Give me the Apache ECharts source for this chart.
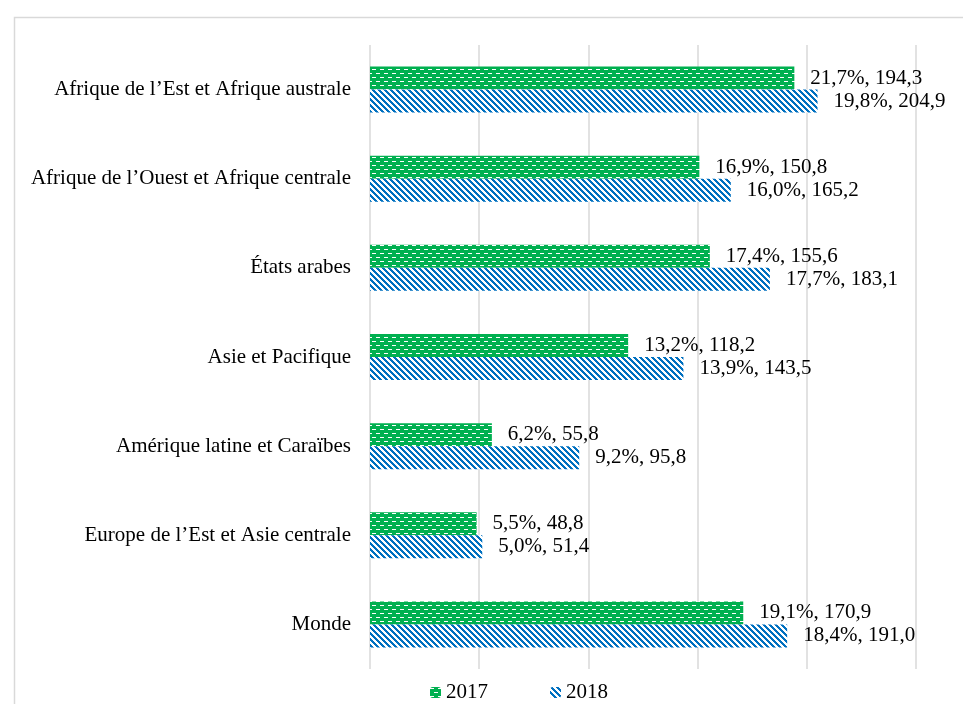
<!DOCTYPE html>
<html>
<head>
<meta charset="utf-8">
<script src="https://cdn.jsdelivr.net/npm/echarts@6/dist/echarts.min.js"></script>
<style>
  html, body { margin: 0; padding: 0; background: #fff; }
  #chart { width: 963px; height: 704px; }
</style>
</head>
<body>
<div id="chart"></div>
<script>
// données
var categories = [
    'Afrique de l\u2019Est et Afrique australe',
    'Afrique de l\u2019Ouest et Afrique centrale',
    'États arabes',
    'Asie et Pacifique',
    'Amérique latine et Caraïbes',
    'Europe de l\u2019Est et Asie centrale',
    'Monde'
];
var values2017 = [194.3, 150.8, 155.6, 118.2, 55.8, 48.8, 170.9];
var values2018 = [204.9, 165.2, 183.1, 143.5, 95.8, 51.4, 191.0];
var pct2017 = [21.7, 16.9, 17.4, 13.2, 6.2, 5.5, 19.1];
var pct2018 = [19.8, 16.0, 17.7, 13.9, 9.2, 5.0, 18.4];

function fr(n) {
    return n.toFixed(1).replace('.', ',');
}

// motif vert : fond vert, tirets blancs décalés
function greenPattern() {
    var c = document.createElement('canvas');
    c.width = 8; c.height = 8;
    var ctx = c.getContext('2d');
    ctx.fillStyle = '#00B050';
    ctx.fillRect(0, 0, 8, 8);
    ctx.fillStyle = '#ffffff';
    ctx.fillRect(0, 1, 4, 1);
    ctx.fillRect(4, 5, 4, 1);
    return c;
}

// motif bleu : hachures diagonales
function bluePattern() {
    var c = document.createElement('canvas');
    c.width = 6; c.height = 6;
    var ctx = c.getContext('2d');
    ctx.fillStyle = '#ffffff';
    ctx.fillRect(0, 0, 6, 6);
    ctx.fillStyle = '#0070C0';
    for (var y = 0; y < 6; y++) {
        for (var k = 0; k < 3; k++) {
            ctx.fillRect((y + k) % 6, y, 1, 1);
        }
    }
    return c;
}

var font = 'Liberation Serif';
var fsize = 21;

var myChart = echarts.init(document.getElementById('chart'));
var option = {
    animation: false,
    backgroundColor: '#fff',
    graphic: [{
        type: 'rect',
        left: 12,
        top: 15,
        shape: { width: 1000, height: 800 },
        style: { fill: 'none', stroke: '#d9d9d9', lineWidth: 1.5 },
        silent: true
    }],
    legend: {
        data: ['2017', '2018'],
        left: 425,
        top: 677,
        itemWidth: 11,
        itemHeight: 11,
        itemGap: 62,
        textStyle: { fontFamily: font, fontSize: fsize, color: '#000' }
    },
    grid: {
        left: 370,
        right: 47,
        top: 45,
        bottom: 35
    },
    xAxis: {
        type: 'value',
        min: 0,
        max: 250,
        interval: 50,
        axisLabel: { show: false },
        axisLine: { show: false },
        axisTick: { show: false },
        splitLine: { lineStyle: { color: '#d9d9d9', width: 1.5 } }
    },
    yAxis: {
        type: 'category',
        inverse: true,
        data: categories,
        axisLine: { show: false },
        axisTick: { show: false },
        axisLabel: {
            margin: 19,
            fontFamily: font,
            fontSize: fsize,
            color: '#000'
        }
    },
    series: [{
        name: '2017',
        type: 'bar',
        barWidth: 23,
        barGap: '0%',
        data: values2017,
        itemStyle: { color: { image: greenPattern(), repeat: 'repeat' } },
        label: {
            show: true,
            position: 'right',
            distance: 16,
            fontFamily: font,
            fontSize: fsize,
            color: '#000',
            formatter: function (p) {
                return fr(pct2017[p.dataIndex]) + '%, ' + fr(p.value);
            }
        }
    }, {
        name: '2018',
        type: 'bar',
        barWidth: 23,
        data: values2018,
        itemStyle: { color: { image: bluePattern(), repeat: 'repeat' } },
        label: {
            show: true,
            position: 'right',
            distance: 16,
            fontFamily: font,
            fontSize: fsize,
            color: '#000',
            formatter: function (p) {
                return fr(pct2018[p.dataIndex]) + '%, ' + fr(p.value);
            }
        }
    }]
};
myChart.setOption(option);
</script>
</body>
</html>
